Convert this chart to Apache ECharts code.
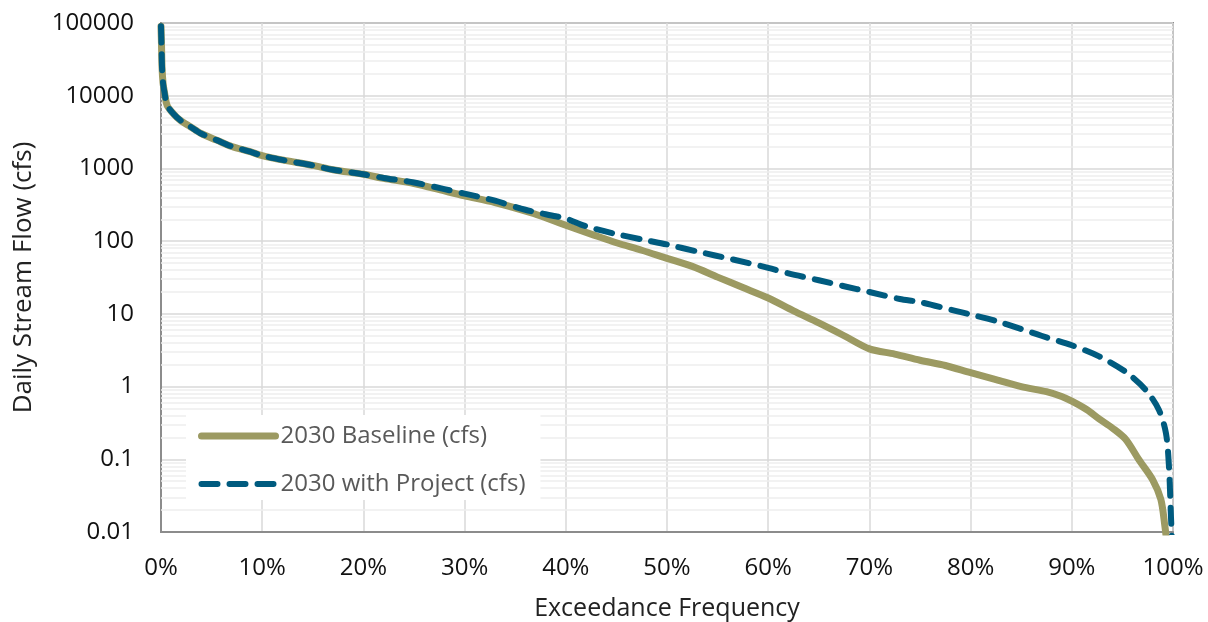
<!DOCTYPE html>
<html>
<head>
<meta charset="utf-8">
<script src="https://cdn.jsdelivr.net/npm/echarts@6/dist/echarts.min.js"></script>
<style>
html,body{margin:0;padding:0;background:#fff;}
#chart{width:1208px;height:622px;}
</style>
</head>
<body>
<div id="chart"></div>
<script>
// Exceedance frequency (%) and flow (cfs)
const baselineX = [0, 0.05, 0.1, 0.2, 0.35, 0.6, 1.2, 1.9, 2.9, 4, 5.5, 7, 8.8, 10, 12.1, 15, 17, 20, 22, 25, 28, 30, 33, 36.8, 40, 42.5, 45, 47.5, 50, 52.5, 55, 57.5, 60, 62.5, 65, 67.5, 70, 72.5, 75, 77.5, 80, 82.5, 85, 87.5, 89, 90, 91.5, 92.7, 94, 95.3, 96.6, 98, 98.8, 99.2, 99.35];
const baselineY = [90000, 50000, 25000, 15000, 11000, 7400, 5700, 4600, 3750, 3000, 2450, 2000, 1700, 1500, 1300, 1100, 960, 830, 730, 620, 490, 420, 340, 240, 165, 125, 95, 75, 58, 45, 32, 23, 16.5, 11, 7.5, 5, 3.3, 2.8, 2.3, 1.95, 1.55, 1.25, 1.0, 0.85, 0.73, 0.63, 0.48, 0.36, 0.27, 0.19, 0.1, 0.052, 0.028, 0.012, 0.008];
const projectX = [0, 0.05, 0.1, 0.2, 0.35, 0.6, 1.2, 1.9, 2.9, 4, 5.5, 7, 8.8, 10, 12.1, 15, 17, 20, 22, 25, 28, 30, 33, 36, 39, 40, 42, 45, 47.6, 50, 53, 56.5, 60, 62, 65, 67.5, 70, 73, 75, 78.5, 80, 82.5, 85, 87, 90, 92.7, 95.3, 97.3, 98.6, 99.3, 99.6, 99.8, 99.9];
const projectY = [90000, 50000, 25000, 15000, 11000, 7400, 5700, 4600, 3750, 3000, 2450, 2000, 1700, 1500, 1300, 1100, 960, 830, 740, 640, 520, 450, 360, 270, 220, 205, 160, 125, 105, 90, 72, 56, 43, 36, 29, 24, 20, 16, 14.5, 11, 9.8, 8, 6.2, 5, 3.7, 2.6, 1.6, 0.9, 0.48, 0.23, 0.08, 0.016, 0.008];
const seriesNames = ['2030 Baseline (cfs)', '2030 with Project (cfs)'];
const yTicks = [0.01, 0.1, 1, 10, 100, 1000, 10000, 100000];
const xTickStep = 10;

const minorLines = [];
for (let i = 0; i < yTicks.length - 1; i++) {
  for (let k = 2; k <= 9; k++) minorLines.push({ yAxis: Number((yTicks[i] * k).toPrecision(6)) });
}

const baseColor = '#9c9a62';
const projColor = '#005b7f';
const projDash = [16, 12];

const font = '"Open Sans", "DejaVu Sans", sans-serif';
const chart = echarts.init(document.getElementById('chart'), null, { renderer: 'canvas' });
chart.setOption({
  animation: false,
  backgroundColor: '#fff',
  textStyle: { fontFamily: font },
  grid: {
    left: 161, top: 23, right: 35, bottom: 90,
    outerBoundsMode: 'none', containLabel: false,
    show: true, borderColor: '#8c8c8c', borderWidth: 2, backgroundColor: 'transparent'
  },
  legend: {
    data: [
      { name: seriesNames[0], lineStyle: { width: 7, color: baseColor, cap: 'round', type: 'solid' } },
      { name: seriesNames[1], lineStyle: { width: 6, color: projColor, cap: 'round', type: projDash } }
    ],
    orient: 'vertical',
    left: 186, top: 415, z: 10,
    backgroundColor: '#fff',
    padding: [9, 15, 4, 12],
    itemWidth: 74, itemHeight: 14, itemGap: 24,
    itemStyle: { opacity: 0 },
    textStyle: { fontFamily: font, fontSize: 24, color: '#595959', lineHeight: 24 }
  },
  xAxis: {
    type: 'value', min: 0, max: 100, interval: xTickStep,
    name: 'Exceedance Frequency', nameLocation: 'middle', nameGap: 64,
    nameTextStyle: { fontFamily: font, fontSize: 25, color: '#222' },
    axisLine: { show: true, lineStyle: { color: '#8c8c8c', width: 2 } },
    axisTick: { show: false },
    axisLabel: { formatter: '{value}%', fontFamily: font, fontSize: 24, color: '#111', margin: 24 },
    splitLine: { show: true, lineStyle: { color: '#d9d9d9', width: 1.5 } }
  },
  yAxis: {
    type: 'log', logBase: 10, min: yTicks[0], max: yTicks[yTicks.length - 1],
    name: 'Daily Stream Flow (cfs)', nameLocation: 'middle', nameGap: 124, nameRotate: 90,
    nameTextStyle: { fontFamily: font, fontSize: 26, color: '#222' },
    axisLine: { show: true, lineStyle: { color: '#8c8c8c', width: 2 } },
    axisTick: { show: false },
    axisLabel: {
      fontFamily: font, fontSize: 24, color: '#111', margin: 27,
      formatter: v => String(Number(Number(v).toPrecision(6)))
    },
    splitLine: { show: true, lineStyle: { color: '#d9d9d9', width: 1.5 } }
  },
  series: [
    {
      name: 'minor', type: 'line', data: [], z: 1, silent: true,
      markLine: {
        silent: true, symbol: 'none', label: { show: false }, z: 1,
        lineStyle: { color: '#eeeeee', width: 1.5, type: 'solid' },
        data: minorLines, animation: false
      }
    },
    {
      name: seriesNames[0], type: 'line', symbol: 'none', smooth: 0.3, z: 3,
      data: baselineX.map((x, i) => [x, baselineY[i]]),
      lineStyle: { color: baseColor, width: 7, cap: 'round', join: 'round' },
      itemStyle: { color: baseColor }
    },
    {
      name: seriesNames[1], type: 'line', symbol: 'none', smooth: 0.3, z: 4,
      data: projectX.map((x, i) => [x, projectY[i]]),
      lineStyle: { color: projColor, width: 6, type: projDash, cap: 'round', join: 'round' },
      itemStyle: { color: projColor }
    }
  ]
});
</script>
</body>
</html>
